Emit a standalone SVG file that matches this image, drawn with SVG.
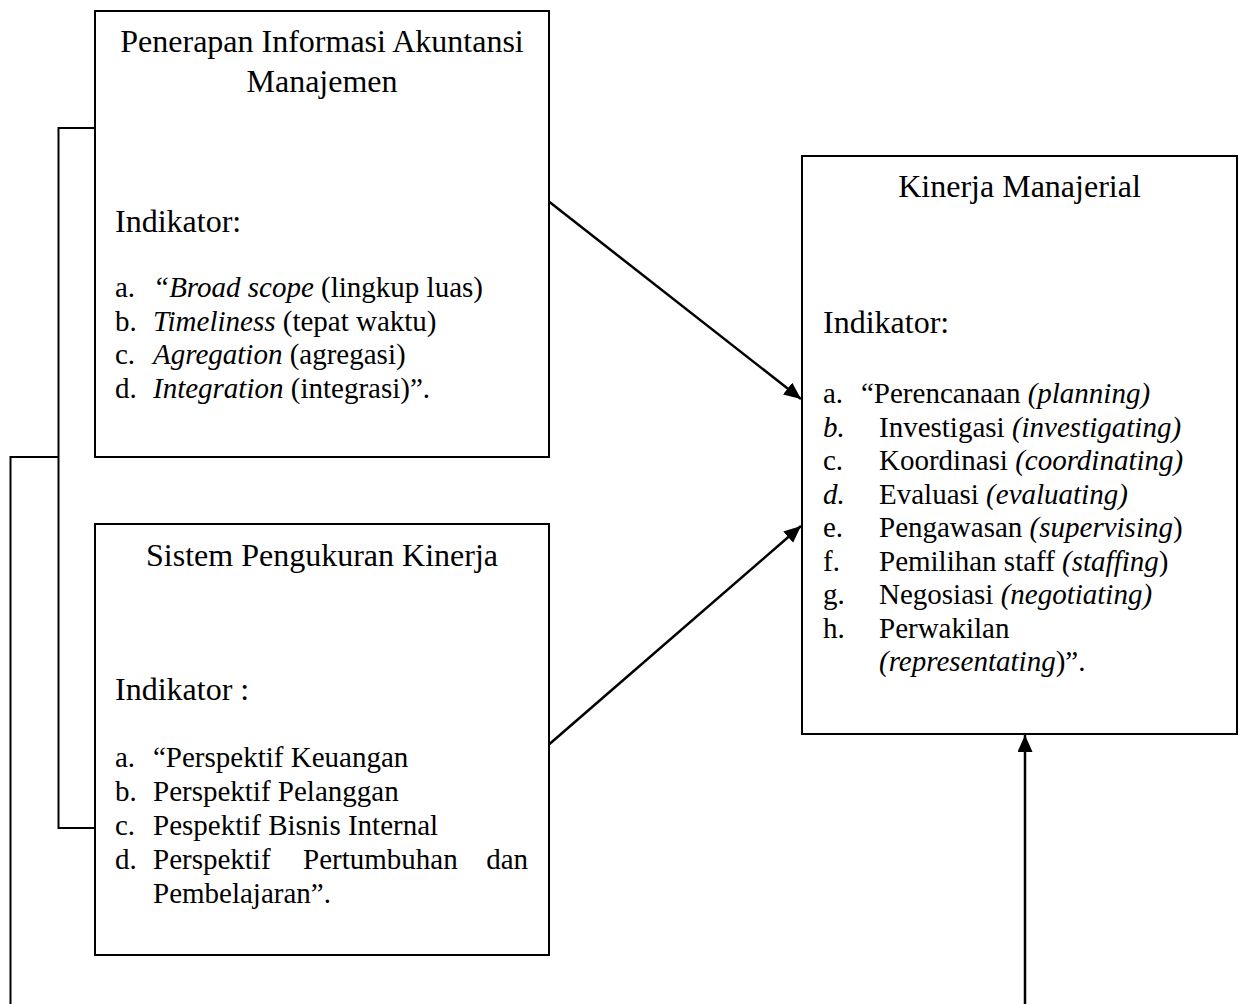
<svg xmlns="http://www.w3.org/2000/svg" width="1243" height="1004" viewBox="0 0 1243 1004">
<style>
text{font-family:"Liberation Serif","Times New Roman",serif;font-size:29px;fill:#000}
.t{font-size:32px}
.i{font-style:italic}
.box{fill:#fff;stroke:#000;stroke-width:2}
.ln{fill:none;stroke:#000;stroke-width:2}
.ar{fill:none;stroke:#000;stroke-width:2.5}
</style>
<defs>
<marker id="ah" markerUnits="userSpaceOnUse" markerWidth="18" markerHeight="16" refX="17" refY="7.5" orient="auto">
<path d="M0,0 L17,7.5 L0,15 z" fill="#000"/>
</marker>
</defs>
<rect width="1243" height="1004" fill="#fff"/>
<g id="connectors">
<polyline class="ln" points="95,128 58.5,128 58.5,828 95,828"/>
<polyline class="ln" points="58.5,457 10.5,457 10.5,1004"/>
<line class="ar" x1="549.5" y1="202" x2="801" y2="399" marker-end="url(#ah)"/>
<line class="ar" x1="549.5" y1="744" x2="801" y2="526" marker-end="url(#ah)"/>
<line class="ar" x1="1025" y1="1004" x2="1025" y2="735" marker-end="url(#ah)"/>
</g>
<g id="node-penerapan">
<rect class="box" x="95" y="11" width="454" height="446"/>
<text class="t" x="322" y="52" text-anchor="middle">Penerapan Informasi Akuntansi</text>
<text class="t" x="322" y="92" text-anchor="middle">Manajemen</text>
<text class="t" x="115" y="232">Indikator:</text>
<text x="115" y="297">a.</text><text x="153" y="297"><tspan class="i">“Broad scope</tspan> (lingkup luas)</text>
<text x="115" y="331">b.</text><text x="153" y="331"><tspan class="i">Timeliness</tspan> (tepat waktu)</text>
<text x="115" y="364">c.</text><text x="153" y="364"><tspan class="i">Agregation</tspan> (agregasi)</text>
<text x="115" y="398">d.</text><text x="153" y="398"><tspan class="i">Integration</tspan> (integrasi)”.</text>
</g>
<g id="node-sistem">
<rect class="box" x="95" y="524" width="454" height="431"/>
<text class="t" x="322" y="566" text-anchor="middle">Sistem Pengukuran Kinerja</text>
<text class="t" x="115" y="700">Indikator :</text>
<text x="115" y="767">a.</text><text x="153" y="767">“Perspektif Keuangan</text>
<text x="115" y="801">b.</text><text x="153" y="801">Perspektif Pelanggan</text>
<text x="115" y="835">c.</text><text x="153" y="835">Pespektif Bisnis Internal</text>
<text x="115" y="869">d.</text><text x="153" y="869">Perspektif</text><text x="303" y="869">Pertumbuhan</text><text x="528" y="869" text-anchor="end">dan</text>
<text x="153" y="903">Pembelajaran”.</text>
</g>
<g id="node-kinerja">
<rect class="box" x="802" y="156" width="435" height="578"/>
<text class="t" x="1019.5" y="197" text-anchor="middle">Kinerja Manajerial</text>
<text class="t" x="823" y="333">Indikator:</text>
<text x="823" y="403">a.</text><text x="861" y="403">“Perencanaan <tspan class="i">(planning)</tspan></text>
<text x="823" y="436.5" class="i">b.</text><text x="879" y="436.5">Investigasi <tspan class="i">(investigating)</tspan></text>
<text x="823" y="470">c.</text><text x="879" y="470">Koordinasi <tspan class="i">(coordinating)</tspan></text>
<text x="823" y="503.5" class="i">d.</text><text x="879" y="503.5">Evaluasi <tspan class="i">(evaluating)</tspan></text>
<text x="823" y="537">e.</text><text x="879" y="537">Pengawasan <tspan class="i">(supervising</tspan>)</text>
<text x="823" y="570.5">f.</text><text x="879" y="570.5">Pemilihan staff <tspan class="i">(staffing</tspan>)</text>
<text x="823" y="604">g.</text><text x="879" y="604">Negosiasi <tspan class="i">(negotiating)</tspan></text>
<text x="823" y="637.5">h.</text><text x="879" y="637.5">Perwakilan</text>
<text x="879" y="671"><tspan class="i">(representating</tspan>)”.</text>
</g>
</svg>
